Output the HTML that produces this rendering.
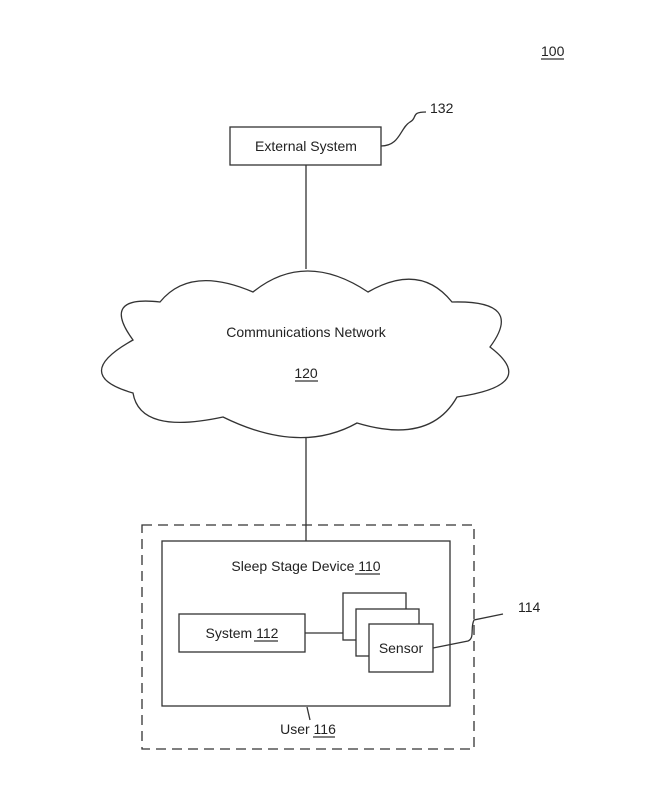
<!DOCTYPE html>
<html><head><style>
body{margin:0;background:#fff;width:655px;height:789px;overflow:hidden}
svg{display:block}
text{font-family:"Liberation Sans",sans-serif;fill:#222}
</style></head><body>
<svg width="655" height="789" viewBox="0 0 655 789" fill="none" stroke="#333" stroke-width="1.3">
<text x="541" y="56" font-size="14" stroke="none">100</text>
<line x1="541" y1="59" x2="564" y2="59"/>
<rect x="230" y="127" width="151" height="38"/>
<text x="306" y="151" font-size="14" text-anchor="middle" stroke="none">External System</text>
<path d="M381 146 C400 146,400 128,410 122 C418 118,410 112,426 112"/>
<text x="430" y="113" font-size="14" stroke="none">132</text>
<line x1="306" y1="165" x2="306" y2="269"/>
<path d="M160 302 Q190 265 253 292 Q305 250 368 292 Q420 262 452 302 Q525 300 490 347 Q540 385 457 397 Q430 445 357 423 Q300 455 223 417 Q140 435 133 393 Q70 375 133 340 Q100 295 160 302 Z" fill="#fff"/>
<text x="306" y="337" font-size="14" text-anchor="middle" stroke="none">Communications Network</text>
<text x="306" y="378" font-size="14" text-anchor="middle" stroke="none">120</text>
<line x1="295" y1="381" x2="318" y2="381"/>
<line x1="306" y1="437" x2="306" y2="541"/>
<rect x="142" y="525" width="332" height="224" stroke-dasharray="10 6"/>
<rect x="162" y="541" width="288" height="165"/>
<text x="306" y="571" font-size="14" text-anchor="middle" stroke="none">Sleep Stage Device 110</text>
<line x1="355" y1="574" x2="380" y2="574"/>
<rect x="179" y="614" width="126" height="38"/>
<text x="242" y="638" font-size="14" text-anchor="middle" stroke="none">System 112</text>
<line x1="254" y1="641" x2="278" y2="641"/>
<line x1="305" y1="633" x2="343" y2="633"/>
<rect x="343" y="593" width="63" height="47" fill="#fff"/>
<rect x="356" y="609" width="63" height="47" fill="#fff"/>
<rect x="369" y="624" width="64" height="48" fill="#fff"/>
<text x="401" y="653" font-size="14" text-anchor="middle" stroke="none">Sensor</text>
<path d="M433 648 L468 641 C475 638,470 628,474 620 L503 614"/>
<text x="518" y="612" font-size="14" stroke="none">114</text>
<line x1="307" y1="707" x2="310" y2="720"/>
<text x="308" y="734" font-size="14" text-anchor="middle" stroke="none">User 116</text>
<line x1="313" y1="737" x2="335" y2="737"/>
</svg>
</body></html>
